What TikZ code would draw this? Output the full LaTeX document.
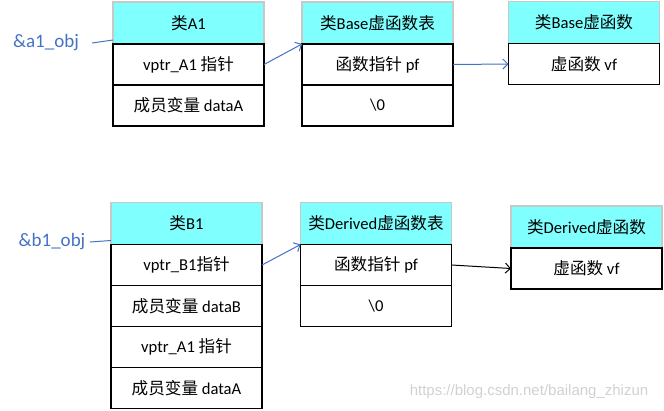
\documentclass[tikz,border=0pt]{standalone}
\usepackage{fontspec}
\setmainfont{Carlito}
\newfontfamily\cjk{Noto Sans CJK SC}
\newfontfamily\wmfont{Liberation Sans}
\usetikzlibrary{arrows.meta,positioning}
\definecolor{headcyan}{HTML}{80FFFF}
\definecolor{headgray}{HTML}{C8C8C8}
\definecolor{ptrblue}{HTML}{4472C4}
\newcommand{\zh}[1]{{\cjk #1}}

\begin{document}
\begin{tikzpicture}[x=1bp, y=-1bp, font=\fontsize{16.6bp}{19bp}\selectfont,
    head/.style={draw=headgray, fill=headcyan, line width=1.8bp, outer sep=0pt, inner sep=0pt, minimum width=151bp, minimum height=42bp},
    cell/.style={draw=black, fill=white, line width=1.8bp, outer sep=0pt, inner sep=0pt, minimum width=151bp, minimum height=41bp},
    ptr/.style={ptrblue, line width=1bp},
    tip/.style={-{Straight Barb[length=5bp, width=10bp]}}]
    \useasboundingbox (0,0) rectangle (664,410);

    % object A1 and its table
    \node[head] (A1) at (188.5, 23) {\zh{类}A1};
    \node[cell, below=0pt of A1] (A1vptr) {vptr\_A1 \zh{指针}};
    \node[cell, below=0pt of A1vptr] (A1data) {\zh{成员变量} dataA};

    \node[head] (Btbl) at (377.5, 23) {\zh{类}Base\zh{虚函数表}};
    \node[cell, below=0pt of Btbl] (Bpf) {\zh{函数指针} pf};
    \node[cell, below=0pt of Bpf] (Bend) {\textbackslash 0};

    \node[head] (Bfun) at (584, 22.5) {\zh{类}Base\zh{虚函数}};
    \node[cell, below=0pt of Bfun] (Bvf) {\zh{虚函数} vf};

    \node[ptrblue, font=\fontsize{19bp}{22bp}\selectfont] (a1ptr) at (46, 43) {\&a1\_obj};
    \coordinate (a1tail) at (92, 43);

    \draw[ptr] (a1tail) -- ([yshift=4bp]A1vptr.north west);
    \draw[ptr, tip] (A1vptr.east) -- (Bpf.north west);
    \draw[ptr, tip] (Bpf.east) -- (Bvf.west);

    % object B1 and its table
    \node[head] (B1) at (186.5, 223.5) {\zh{类}B1};
    \node[cell, below=0pt of B1] (B1vptr) {vptr\_B1\zh{指针}};
    \node[cell, below=0pt of B1vptr] (B1dataB) {\zh{成员变量} dataB};
    \node[cell, below=0pt of B1dataB] (B1vptrA) {vptr\_A1 \zh{指针}};
    \node[cell, below=0pt of B1vptrA] (B1dataA) {\zh{成员变量} dataA};

    \node[head] (Dtbl) at (376, 223.5) {\zh{类}Derived\zh{虚函数表}};
    \node[cell, below=0pt of Dtbl] (Dpf) {\zh{函数指针} pf};
    \node[cell, below=0pt of Dpf] (Dend) {\textbackslash 0};

    \node[head] (Dfun) at (586.5, 227) {\zh{类}Derived\zh{虚函数}};
    \node[cell, below=0pt of Dfun] (Dvf) {\zh{虚函数} vf};

    \node[ptrblue, font=\fontsize{19bp}{22bp}\selectfont] (b1ptr) at (52, 242) {\&b1\_obj};
    \coordinate (b1tail) at (90, 242);

    \draw[ptr] (b1tail) -- ([yshift=4bp]B1vptr.north west);
    \draw[ptr, tip] (B1vptr.east) -- (Dpf.north west);
    \draw[line width=1bp, tip] (Dpf.east) -- (Dvf.west);

    \node[text=black!18, font=\wmfont\fontsize{15bp}{17bp}\selectfont] (mark) at (529, 392) {https://blog.csdn.net/bailang\_zhizun};
\end{tikzpicture}
\end{document}
